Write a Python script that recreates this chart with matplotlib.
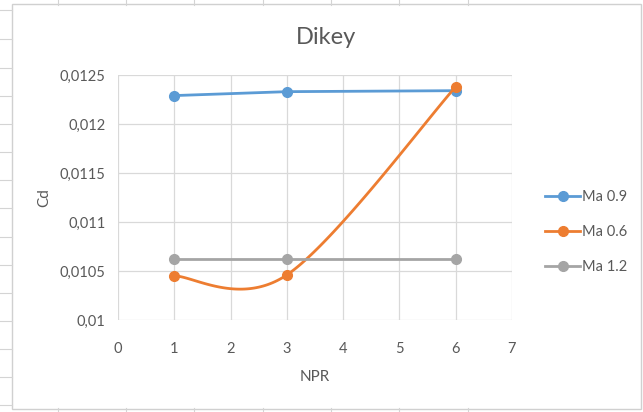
import numpy as np
import matplotlib
matplotlib.use("Agg")
import matplotlib.pyplot as plt
from matplotlib.lines import Line2D
from matplotlib.patches import Rectangle
from matplotlib.ticker import FuncFormatter

plt.rcParams['font.family'] = ['Lato', 'DejaVu Sans']

# Data
npr = [1, 3, 6]
ma_09 = [0.01229, 0.01233, 0.01234]
ma_06 = [0.01045, 0.01046, 0.01238]
ma_12 = [0.01062, 0.01062, 0.01062]
series_names = ["Ma 0.9", "Ma 0.6", "Ma 1.2"]
x_ticks = [0, 1, 2, 3, 4, 5, 6, 7]
y_ticks = [0.01, 0.0105, 0.011, 0.0115, 0.012, 0.0125]

BLUE = "#5B9BD5"
ORANGE = "#ED7D31"
GRAY = "#A5A5A5"
TEXT = "#595959"
GRID = "#D9D9D9"


def smooth_curve(xs, ys, n=60):
    """Cubic Bezier smoothing through the points (spreadsheet-style)."""
    pts = np.column_stack([xs, ys]).astype(float)
    padded = np.vstack([pts[0], pts, pts[-1]])
    out = []
    t = np.linspace(0, 1, n)[:, None]
    for i in range(1, len(padded) - 2):
        p0, p1, p2, p3 = padded[i - 1], padded[i], padded[i + 1], padded[i + 2]
        c1 = p1 + (p2 - p0) / 6.0
        c2 = p2 - (p3 - p1) / 6.0
        seg = ((1 - t) ** 3) * p1 + 3 * ((1 - t) ** 2) * t * c1 \
            + 3 * (1 - t) * t ** 2 * c2 + t ** 3 * p2
        out.append(seg if i == 1 else seg[1:])
    seg = np.vstack(out)
    return seg[:, 0], seg[:, 1]


W, H = 643, 412
fig = plt.figure(figsize=(W / 100, H / 100), dpi=100)
fig.patch.set_facecolor("white")

# Worksheet cell lines around the chart object
for xp in [58, 126, 194, 263, 331, 399, 468]:
    fig.add_artist(Line2D([xp / W, xp / W], [1, 1 - 5 / H], color="#D4D4D4", lw=0.8))
    fig.add_artist(Line2D([xp / W, xp / W], [0, 4 / H], color="#D4D4D4", lw=0.8))
for yp in [10, 39, 68, 96, 124, 152, 180, 208, 237, 265, 293, 321, 349, 377, 405]:
    fig.add_artist(Line2D([0, 12 / W], [1 - yp / H, 1 - yp / H], color="#D4D4D4", lw=0.8))

# Chart frame
fig.add_artist(Rectangle((12 / W, 1 - 409 / H), (641 - 12) / W, (409 - 4) / H,
                         transform=fig.transFigure, facecolor="white",
                         edgecolor="#D0D0D0", lw=1.0, zorder=0))

ax = fig.add_axes([118 / W, 1 - 320 / H, (512 - 118) / W, (320 - 75) / H])
ax.set_facecolor("none")
ax.set_xlim(0, 7)
ax.set_ylim(0.01, 0.0125)
ax.set_xticks(x_ticks)
ax.set_yticks(y_ticks)
ax.yaxis.set_major_formatter(FuncFormatter(lambda v, p: f"{v:g}".replace(".", ",")))
ax.grid(True, color=GRID, lw=0.9)
ax.set_axisbelow(True)
for s in ax.spines.values():
    s.set_visible(False)
ax.tick_params(length=0, colors=TEXT, labelsize=10.5)
ax.tick_params(axis="x", pad=16)
ax.tick_params(axis="y", pad=9)

ax.plot(npr, ma_09, color=BLUE, lw=2, marker="o", ms=7, clip_on=False)
sx, sy = smooth_curve(npr, ma_06)
ax.plot(sx, sy, color=ORANGE, lw=2, clip_on=False)
ax.plot(npr, ma_06, color=ORANGE, lw=0, marker="o", ms=7, clip_on=False)
ax.plot(npr, ma_12, color=GRAY, lw=2, marker="o", ms=7, clip_on=False)

handles = [Line2D([], [], color=c, lw=2, marker="o", ms=7) for c in (BLUE, ORANGE, GRAY)]
fig.legend(handles, series_names, loc="center left",
           bbox_to_anchor=(532 / W, 1 - 232 / H), frameon=False,
           fontsize=10.5, labelcolor=TEXT, handlelength=2.4, handletextpad=0.15,
           labelspacing=1.45)

fig.text(326 / W, 1 - 38 / H, "Dikey", color=TEXT, fontsize=17,
         ha="center", va="center")
ax.set_xlabel("NPR", color=TEXT, fontsize=11, labelpad=10)
ax.set_ylabel("Cd", color=TEXT, fontsize=11, labelpad=6)

fig.savefig("out.png", dpi=100, facecolor="white")
